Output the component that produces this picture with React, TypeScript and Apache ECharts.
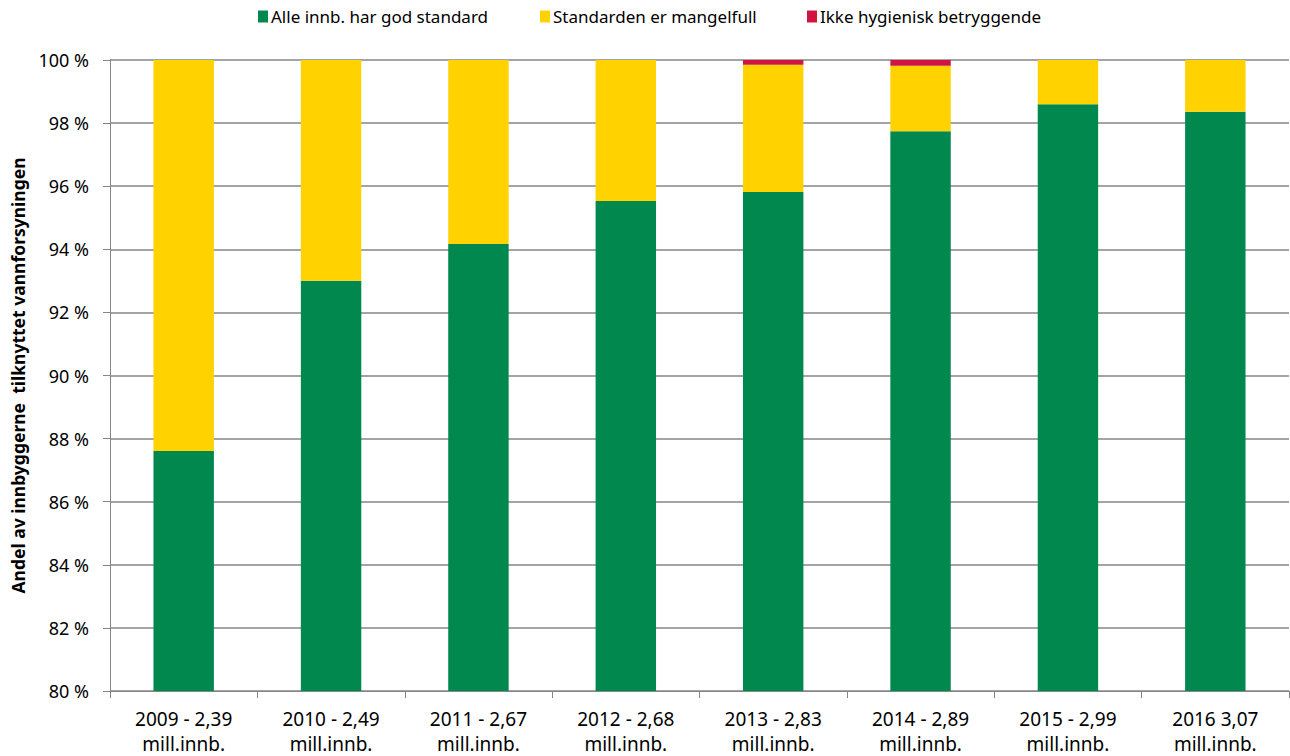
import React, { useEffect, useRef } from "react";
import * as echarts from "echarts";

const categories = [
  "2009 - 2,39\nmill.innb.",
  "2010 - 2,49\nmill.innb.",
  "2011 - 2,67\nmill.innb.",
  "2012 - 2,68\nmill.innb.",
  "2013 - 2,83\nmill.innb.",
  "2014 - 2,89\nmill.innb.",
  "2015 - 2,99\nmill.innb.",
  "2016 3,07\nmill.innb.",
];
const good = [87.61, 93.0, 94.17, 95.53, 95.82, 97.74, 98.6, 98.36];
const deficient = [12.39, 7.0, 5.83, 4.47, 4.03, 2.08, 1.4, 1.64];
const unhygienic = [0, 0, 0, 0, 0.15, 0.18, 0, 0];
const seriesNames = [
  "Alle innb. har god standard",
  "Standarden er mangelfull",
  "Ikke hygienisk betryggende",
];
const colors = ["#00884F", "#FFD200", "#D01543"];

const FONT = "'Noto Sans', 'Open Sans', sans-serif";

export default function App() {
  const ref = useRef<HTMLDivElement>(null);
  useEffect(() => {
    document.body.style.margin = "0";
    const chart = echarts.init(ref.current!, undefined, { renderer: "svg" });
    const legendLeft = [258, 540, 807];
    chart.setOption({
      animation: false,
      textStyle: { fontFamily: FONT },
      legend: seriesNames.map((n, i) => ({
        data: [n],
        left: legendLeft[i],
        top: 8,
        padding: 0,
        itemWidth: 10,
        itemHeight: 12,
        itemGap: 4,
        icon: "rect",
        textStyle: { fontSize: 17, color: "#000", fontFamily: FONT, padding: [0, 0, 0, -2] },
      })),
      grid: { left: 110, right: 1, top: 60, bottom: 65, containLabel: false, outerBoundsMode: "none" },
      xAxis: {
        type: "category",
        data: categories,
        axisLine: { lineStyle: { color: "#868686", width: 1 } },
        axisTick: { show: true, alignWithLabel: false, length: 7, lineStyle: { color: "#868686" } },
        axisLabel: { color: "#000", fontSize: 19, lineHeight: 25, margin: 15, fontFamily: FONT },
      },
      yAxis: {
        type: "value",
        min: 80,
        max: 100,
        interval: 2,
        name: "Andel av innbyggerne  tilknyttet vannforsyningen",
        nameLocation: "middle",
        nameGap: 83,
        nameTextStyle: { fontSize: 17.5, fontWeight: "bold", color: "#000", fontFamily: FONT },
        axisLine: { show: true, lineStyle: { color: "#868686", width: 1 } },
        axisTick: { show: true, length: 7, lineStyle: { color: "#868686" } },
        axisLabel: { color: "#000", fontSize: 18, margin: 21, formatter: "{value} %", fontFamily: FONT },
        splitLine: { show: true, lineStyle: { color: "#868686", width: 1.5 } },
      },
      series: [good, deficient, unhygienic].map((d, i) => ({
        name: seriesNames[i],
        type: "bar",
        stack: "total",
        data: d,
        barWidth: "41%",
        itemStyle: { color: colors[i] },
      })),
    });
    return () => chart.dispose();
  }, []);
  return <div ref={ref} style={{ width: 1290, height: 756 }} />;
}
